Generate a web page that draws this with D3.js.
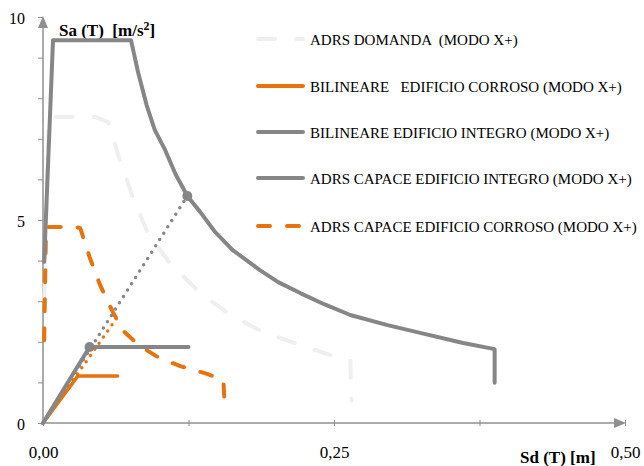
<!DOCTYPE html>
<html>
<head>
<meta charset="utf-8">
<script src="https://cdn.jsdelivr.net/npm/d3@7"></script>
<style>
  body { margin: 0; background: #fff; }
  text { font-family: "Liberation Serif", "Times New Roman", serif; fill: #000; }
</style>
</head>
<body>
<div id="chart"></div>
<script>
const W = 644;
const H = 466;
const ORANGE = "#e8720c";
const GREY = "#868686";
const LIGHT = "#efefef";

// [Sd (m), Sa (m/s2)]
var domanda = [[0.001, 3.03], [0.005, 7.54], [0.045, 7.54], [0.056, 7.41], [0.066, 6.48], [0.077, 5.57],
  [0.090, 4.68], [0.109, 3.94], [0.135, 3.20], [0.161, 2.66], [0.189, 2.24], [0.221, 1.92],
  [0.255, 1.60], [0.264, 1.55], [0.265, 0.55]];
var biCorroso = [[0, 0], [0.030, 1.16], [0.064, 1.16]];
var biIntegro = [[0, 0], [0.040, 1.87], [0.125, 1.87]];
var capIntegro = [[0.001, 3.97], [0.0086, 9.43], [0.0756, 9.43], [0.082, 8.60], [0.089, 7.83], [0.096, 7.22],
  [0.105, 6.72], [0.114, 6.12], [0.124, 5.59], [0.135, 5.20], [0.148, 4.70], [0.163, 4.26],
  [0.186, 3.77], [0.202, 3.47], [0.221, 3.20], [0.242, 2.92], [0.264, 2.66], [0.296, 2.41],
  [0.324, 2.22], [0.361, 1.97], [0.388, 1.82], [0.388, 0.99]];
var capCorroso = [[0.001, 2.04], [0.0026, 4.83], [0.0275, 4.83], [0.032, 4.80], [0.040, 4.09], [0.049, 3.40],
  [0.060, 2.73], [0.070, 2.24], [0.083, 1.90], [0.100, 1.60], [0.118, 1.40], [0.141, 1.21],
  [0.155, 1.06], [0.156, 0.47]];
var dotIntegro = [[0, 0], [0.124, 5.59]];
var dotCorroso = [[0, 0], [0.063, 2.57]];
var points = [[0.040, 1.87], [0.124, 5.59]];

var xTicks = [0, 0.125, 0.25, 0.375, 0.5];
var xLabels = ["0,00", "", "0,25", "", "0,50"];
var yTicks = d3.range(0, 11);
var yLabels = { 0: "0", 5: "5", 10: "10" };

var legendNames = ["ADRS DOMANDA  (MODO X+)", "BILINEARE   EDIFICIO CORROSO (MODO X+)",
  "BILINEARE EDIFICIO INTEGRO (MODO X+)", "ADRS CAPACE EDIFICIO INTEGRO (MODO X+)",
  "ADRS CAPACE EDIFICIO CORROSO (MODO X+)"];

var x = d3.scaleLinear().domain([0, 0.5]).range([43, 625]);
var y = d3.scaleLinear().domain([0, 10]).range([423, 17]);

var svg = d3.select("#chart").append("svg")
  .attr("width", W)
  .attr("height", H);

// axes
var AX = "#8f8f8f";
var yAxis = svg.append("g")
  .attr("transform", "translate(" + x(0) + ",0)")
  .call(d3.axisLeft(y).tickValues(yTicks).tickSize(5).tickPadding(13)
    .tickFormat(d => yLabels[d] || ""));
var xAxis = svg.append("g")
  .attr("transform", "translate(0," + y(0) + ")")
  .call(d3.axisBottom(x).tickValues(xTicks).tickSize(3).tickPadding(20)
    .tickFormat((d, i) => xLabels[i]));
[xAxis, yAxis].forEach(g => {
  g.attr("font-family", null).attr("font-size", null);
  g.select(".domain").remove();
  g.selectAll(".tick line").attr("stroke", AX);
});
xAxis.selectAll(".tick text").style("font-size", "17px");
yAxis.selectAll(".tick text").style("font-size", "16px");
xAxis.selectAll(".tick line").attr("y1", -3);
yAxis.selectAll(".tick text").attr("dy", "0.4em");

svg.append("line").attr("x1", x(0)).attr("x2", x(0)).attr("y1", y(0)).attr("y2", y(10) + 6)
  .attr("stroke", AX).attr("stroke-width", 1.5);
svg.append("path")
  .attr("d", "M" + x(0) + "," + (y(10) - 1) + "l-5,12l10,0z").attr("fill", AX);
svg.append("line").attr("x1", x(0)).attr("x2", x(0.5) - 6).attr("y1", y(0)).attr("y2", y(0))
  .attr("stroke", AX).attr("stroke-width", 1.5);
svg.append("path")
  .attr("d", "M" + (x(0.5) + 1) + "," + y(0) + "l-12,-5l0,10z").attr("fill", AX);

svg.append("text").attr("x", 59).attr("y", 36)
  .style("font-size", "17px").style("font-weight", "bold")
  .html("Sa (T)&#160; [m/s<tspan dy='-6' font-size='12px'>2</tspan><tspan dy='6'>]</tspan>");
svg.append("text").attr("x", 520).attr("y", 463)
  .style("font-size", "17px").style("font-weight", "bold")
  .text("Sd (T) [m]");

// series
var line = d3.line().x(d => x(d[0])).y(d => y(d[1]));
var styles = [
  { data: domanda, color: LIGHT, width: 4, dash: "17,21" },
  { data: biCorroso, color: ORANGE, width: 3.5, dash: null },
  { data: biIntegro, color: GREY, width: 4, dash: null },
  { data: capIntegro, color: GREY, width: 4, dash: null },
  { data: capCorroso, color: ORANGE, width: 4, dash: "12,17" }
];
var extras = [
  { data: dotCorroso, color: ORANGE, width: 3.5, dash: "0,7.5" },
  { data: dotIntegro, color: GREY, width: 3.5, dash: "0,7.5" }
];

function drawSeries(s) {
  svg.append("path")
    .attr("d", line(s.data))
    .attr("fill", "none")
    .attr("stroke", s.color)
    .attr("stroke-width", s.width)
    .attr("stroke-linecap", "round")
    .attr("stroke-linejoin", "round")
    .attr("stroke-dasharray", s.dash);
}
drawSeries(styles[0]);
drawSeries(styles[4]);
extras.forEach(drawSeries);
drawSeries(styles[1]);
drawSeries(styles[2]);
drawSeries(styles[3]);

svg.selectAll("circle.pt")
  .data(points)
  .enter()
  .append("circle")
  .attr("class", "pt")
  .attr("cx", d => x(d[0]))
  .attr("cy", d => y(d[1]))
  .attr("r", 5)
  .attr("fill", GREY);

// legend
var legendY = [39, 86, 132, 178, 226];
var legend = svg.selectAll("g.lg")
  .data(styles)
  .enter()
  .append("g")
  .attr("class", "lg")
  .attr("transform", (d, i) => "translate(256," + legendY[i] + ")");
legend.append("line")
  .attr("x1", 2).attr("x2", 47)
  .attr("stroke", d => d.color)
  .attr("stroke-width", 4)
  .attr("stroke-linecap", "round")
  .attr("stroke-dasharray", d => d.dash);
legend.append("text")
  .attr("x", 54)
  .attr("y", 6)
  .style("font-size", "15px")
  .style("white-space", "pre")
  .text((d, i) => legendNames[i]);
</script>
</body>
</html>
